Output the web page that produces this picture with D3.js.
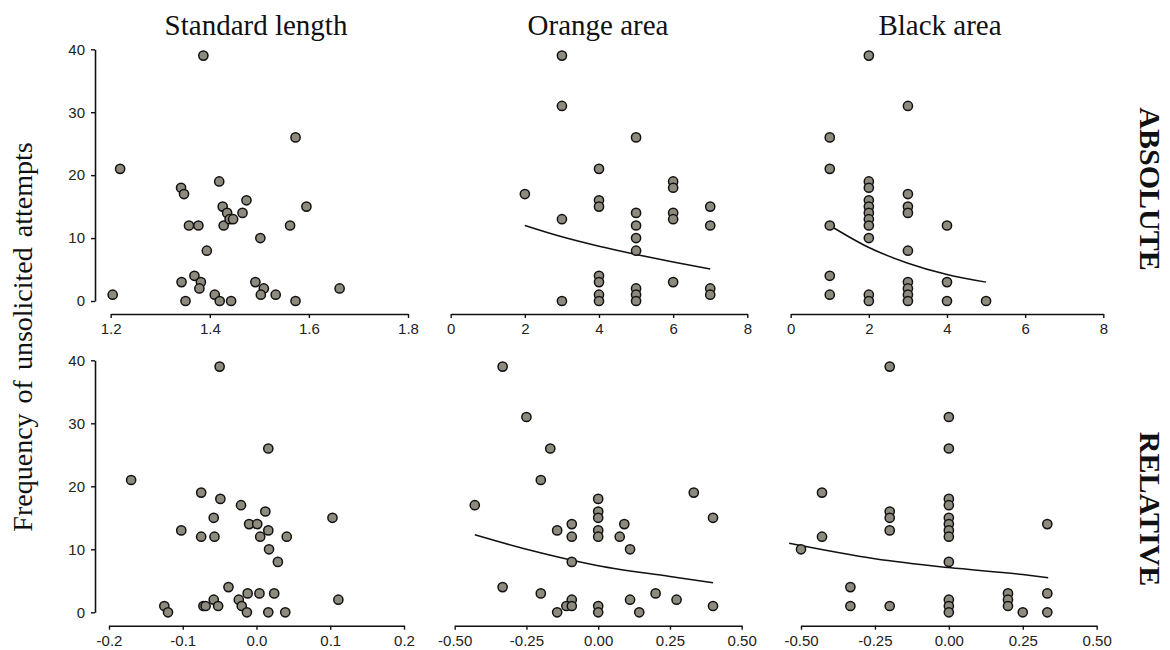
<!DOCTYPE html>
<html>
<head>
<meta charset="utf-8">
<script src="https://cdn.jsdelivr.net/npm/d3@7"></script>
<style>
  html, body { margin: 0; padding: 0; background: #fff; }
  svg { display: block; }
</style>
</head>
<body>
<svg id="chart" width="1170" height="650"></svg>
<script>
// ---------------- DATA ----------------
const columnTitles = ["Standard length", "Orange area", "Black area"];
const rowLabels = ["ABSOLUTE", "RELATIVE"];
const yAxisTitle = "Frequency of unsolicited attempts";
const yTicks = [0, 10, 20, 30, 40];
const yTickLabels = ["0", "10", "20", "30", "40"];

// Standard length, absolute
const slAbsX = [1.204,1.219,1.387,1.342,1.348,1.358,1.377,1.343,1.351,1.369,1.382,1.379,1.394,1.419,1.426,1.435,1.428,1.440,1.447,1.466,1.474,1.410,1.420,1.443,1.502,1.492,1.509,1.503,1.533,1.573,1.562,1.573,1.595,1.662];
const slAbsY = [1,21,39,18,17,12,12,3,0,4,3,2,8,19,15,14,12,13,13,14,16,1,0,0,10,3,2,1,1,26,12,0,15,2];
const slAbsTicks = [1.2, 1.4, 1.6, 1.8];
const slAbsTickLabels = ["1.2", "1.4", "1.6", "1.8"];

// Orange area, absolute
const orAbsX = [3,3,5,4,2,4,4,3,6,6,6,6,6,7,7,7,7,5,5,5,5,5,5,5,4,4,4,4,3];
const orAbsY = [39,31,26,21,17,16,15,13,19,18,14,13,3,15,12,2,1,14,12,10,8,2,1,0,4,3,1,0,0];
const orAbsFitX = [2, 3, 4, 5, 6, 7];
const orAbsFitY = [12.0, 10.2, 8.7, 7.4, 6.2, 5.1];
const absTicks = [0, 2, 4, 6, 8];
const absTickLabels = ["0", "2", "4", "6", "8"];

// Black area, absolute
const blAbsX = [2,3,1,1,1,1,1,2,2,2,2,2,2,2,2,2,2,3,3,3,3,3,3,3,3,4,4,4,5];
const blAbsY = [39,31,26,21,12,4,1,19,18,16,15,14,13,12,10,1,0,17,15,14,8,3,2,1,0,12,3,0,0];
const blAbsFitX = [1, 2, 3, 4, 5];
const blAbsFitY = [12.0, 8.5, 6.0, 4.2, 3.0];

// Standard length, relative
const slRelX = [-0.170,-0.075,-0.049,-0.021,0.012,-0.058,0.103,-0.010,0.001,-0.102,0.016,-0.075,-0.057,0.005,0.041,0.017,0.029,0.016,-0.038,-0.012,0.004,0.024,-0.058,-0.024,0.111,-0.125,-0.072,-0.069,-0.052,-0.020,-0.120,-0.013,0.016,0.039,-0.050];
const slRelY = [21,19,18,17,16,15,15,14,14,13,13,12,12,12,12,10,8,26,4,3,3,3,2,2,2,1,1,1,1,1,0,0,0,0,39];
const slRelTicks = [-0.2, -0.1, 0.0, 0.1, 0.2];
const slRelTickLabels = ["-0.2", "-0.1", "0.0", "0.1", "0.2"];

// Orange area, relative
const orRelX = [-0.333,-0.25,-0.167,-0.2,-0.43,0.333,0.4,0,0,0,0,0,-0.092,-0.143,-0.092,0.091,0.075,0.111,-0.092,-0.333,-0.2,0.2,-0.092,0.111,0.273,-0.111,-0.092,0,0.4,-0.143,0,0.143];
const orRelY = [39,31,26,21,17,19,15,18,16,15,13,12,14,13,12,14,12,10,8,4,3,3,2,2,2,1,1,1,1,0,0,0];
const orRelFitX = [-0.43, -0.25, 0, 0.25, 0.40];
const orRelFitY = [12.3, 10.0, 7.4, 5.7, 4.7];
const relTicks = [-0.5, -0.25, 0, 0.25, 0.5];
const relTickLabels = ["-0.50", "-0.25", "0.00", "0.25", "0.50"];

// Black area, relative
const blRelX = [-0.2,0,0,-0.429,-0.429,-0.5,-0.2,-0.2,-0.2,0,0,0,0,0,0,0,0.333,-0.333,-0.333,-0.2,0,0,0,0.2,0.2,0.2,0.25,0.333,0.333];
const blRelY = [39,31,26,19,12,10,16,15,13,18,17,15,14,13,12,8,14,4,1,1,2,1,0,3,2,1,0,3,0];
const blRelFitX = [-0.54, -0.25, 0, 0.25, 0.336];
const blRelFitY = [10.95, 8.5, 7.1, 6.0, 5.5];

// ---------------- LAYOUT ----------------
const rows = [
  { y0: 301, y40: 49.3, axisY: 314, labelY: 334 },
  { y0: 612.3, y40: 360.3, axisY: 625.7, labelY: 646 }
];
const panels = [
  { row: 0, domain: [1.2, 1.8], range: [110.7, 408], xs: slAbsX, ys: slAbsY, ticks: slAbsTicks, labels: slAbsTickLabels, yAxis: true },
  { row: 0, domain: [0, 8], range: [450.7, 747.3], xs: orAbsX, ys: orAbsY, fx: orAbsFitX, fy: orAbsFitY, ticks: absTicks, labels: absTickLabels },
  { row: 0, domain: [0, 8], range: [790.7, 1103.3], xs: blAbsX, ys: blAbsY, fx: blAbsFitX, fy: blAbsFitY, ticks: absTicks, labels: absTickLabels },
  { row: 1, domain: [-0.2, 0.2], range: [109, 404], xs: slRelX, ys: slRelY, ticks: slRelTicks, labels: slRelTickLabels, yAxis: true },
  { row: 1, domain: [-0.5, 0.5], range: [454.7, 741.7], xs: orRelX, ys: orRelY, fx: orRelFitX, fy: orRelFitY, ticks: relTicks, labels: relTickLabels },
  { row: 1, domain: [-0.5, 0.5], range: [801, 1096.7], xs: blRelX, ys: blRelY, fx: blRelFitX, fy: blRelFitY, ticks: relTicks, labels: relTickLabels }
];

const svg = d3.select("#chart");
const sansFont = "'Liberation Sans', Arial, sans-serif";
const serifFont = "'Liberation Serif', 'Times New Roman', serif";

panels.forEach(p => {
  const r = rows[p.row];
  const x = d3.scaleLinear().domain(p.domain).range(p.range);
  const y = d3.scaleLinear().domain([0, 40]).range([r.y0, r.y40]);
  const g = svg.append("g");

  // X axis
  const xAxis = d3.axisBottom(x)
    .tickValues(p.ticks)
    .tickSize(4)
    .tickSizeOuter(0)
    .tickFormat((d, i) => p.labels[i]);
  const xg = g.append("g").attr("transform", `translate(0,${r.axisY})`).call(xAxis);
  xg.select(".domain").attr("stroke", "#111").attr("stroke-width", 1.6);
  xg.selectAll(".tick line").attr("stroke", "#111").attr("stroke-width", 1.4);
  xg.selectAll(".tick text")
    .attr("dy", null)
    .attr("y", r.labelY - r.axisY)
    .attr("font-family", sansFont).attr("font-size", 15).attr("fill", "#222");

  // Y axis
  if (p.yAxis) {
    const yAxis = d3.axisLeft(y)
      .tickValues(yTicks)
      .tickSize(4)
      .tickSizeOuter(0)
      .tickFormat((d, i) => yTickLabels[i]);
    const yg = g.append("g").attr("transform", "translate(95,0)").call(yAxis);
    yg.select(".domain").attr("stroke", "#111").attr("stroke-width", 1.6);
    yg.selectAll(".tick line").attr("stroke", "#111").attr("stroke-width", 1.4);
    yg.selectAll(".tick text")
      .attr("x", -10)
      .attr("font-family", sansFont).attr("font-size", 15).attr("fill", "#222");
  }

  // Fit curve
  if (p.fx) {
    const pts = p.fx.map((d, i) => [d, p.fy[i]]);
    g.append("path")
      .datum(pts)
      .attr("fill", "none")
      .attr("stroke", "#111")
      .attr("stroke-width", 1.5)
      .attr("d", d3.line().x(d => x(d[0])).y(d => y(d[1])).curve(d3.curveMonotoneX));
  }

  // Points
  const pts = p.xs.map((d, i) => [d, p.ys[i]]);
  g.append("g").selectAll("circle")
    .data(pts)
    .join("circle")
    .attr("cx", d => x(d[0]))
    .attr("cy", d => y(d[1]))
    .attr("r", 4.6)
    .attr("fill", "#8e8b7e")
    .attr("stroke", "#111")
    .attr("stroke-width", 1.5);
});

// Column titles
const titleX = [256, 598, 940];
columnTitles.forEach((t, i) => {
  svg.append("text")
    .attr("x", titleX[i]).attr("y", 35)
    .attr("text-anchor", "middle")
    .attr("font-family", serifFont).attr("font-size", 29)
    .attr("fill", "#111")
    .text(t);
});

// Y-axis title
svg.append("text")
  .attr("transform", "translate(32,337) rotate(-90)")
  .attr("text-anchor", "middle")
  .attr("font-family", serifFont).attr("font-size", 28)
  .attr("word-spacing", 3)
  .attr("fill", "#111")
  .text(yAxisTitle);

// Row labels (rotated clockwise)
const rowLabelY = [189, 509];
rowLabels.forEach((t, i) => {
  svg.append("text")
    .attr("transform", `translate(1140,${rowLabelY[i]}) rotate(90)`)
    .attr("text-anchor", "middle")
    .attr("font-family", serifFont).attr("font-size", 30)
    .attr("font-weight", "bold")
    .attr("fill", "#111")
    .text(t);
});
</script>
</body>
</html>
